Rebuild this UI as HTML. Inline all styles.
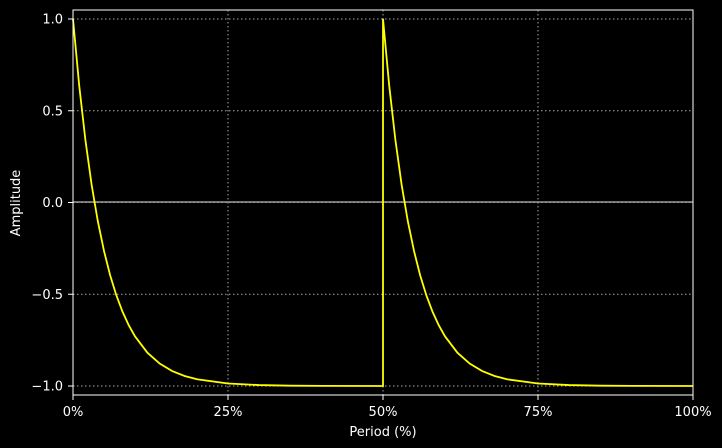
<!DOCTYPE html>
<html><head><meta charset="utf-8"><style>
html,body{margin:0;padding:0;background:#000;}
svg{display:block;font-family:"DejaVu Sans","Liberation Sans",sans-serif;}
</style></head><body>
<svg id="chart" width="722" height="448">
<rect width="722" height="448" fill="#000"/>
<g id="grid"></g>
<line x1="73" x2="693" y1="202" y2="202" stroke="#999" stroke-width="1.5"/>
<path id="series" fill="none" stroke="#ffff00" stroke-width="1.8"/>
<rect x="73" y="10" width="620" height="385" fill="none" stroke="#fff" stroke-width="1"/>
<g id="ticks"></g>
<text x="383" y="436" fill="#fff" font-size="13" text-anchor="middle">Period (%)</text>
<text x="20" y="203" fill="#fff" font-size="13" text-anchor="middle" transform="rotate(-90 20 203)">Amplitude</text>
</svg>
<script>
const xTicks = [0, 25, 50, 75, 100];
const xTickLabels = ["0%", "25%", "50%", "75%", "100%"];
const yTicks = [1, 0.5, 0, -0.5, -1];
const yTickLabels = ["1.0", "0.5", "0.0", "\u22120.5", "\u22121.0"];
const periodX = [0,1,2,3,4,5,6,7,8,9,10,12,14,16,18,20,25,30,35,40,50,
                 50,51,52,53,54,55,56,57,58,59,60,62,64,66,68,70,75,80,85,90,100];
const amplitude = [1.0,0.6375,0.3406,0.0976,-0.1013,-0.2642,-0.3976,-0.5068,-0.5962,-0.6694,-0.7293,-0.8186,-0.8784,-0.9185,-0.9454,-0.9634,-0.9865,-0.995,-0.9982,-0.9993,-0.9999,
                   1.0,0.6375,0.3406,0.0976,-0.1013,-0.2642,-0.3976,-0.5068,-0.5962,-0.6694,-0.7293,-0.8186,-0.8784,-0.9185,-0.9454,-0.9634,-0.9865,-0.995,-0.9982,-0.9993,-0.9999];

const NS = "http://www.w3.org/2000/svg";
const xS = v => 73 + (v / 100) * 620;
const yS = v => 202.5 - v * 183.5;
const grid = document.getElementById('grid');
const ticks = document.getElementById('ticks');

xTicks.forEach((t, i) => {
  const g = document.createElementNS(NS, 'line');
  g.setAttribute('x1', xS(t)); g.setAttribute('x2', xS(t));
  g.setAttribute('y1', 10); g.setAttribute('y2', 395);
  g.setAttribute('stroke', '#aaa'); g.setAttribute('stroke-dasharray', '1.5,2.5');
  
  
  grid.appendChild(g);
  const tk = document.createElementNS(NS, 'line');
  tk.setAttribute('x1', xS(t)); tk.setAttribute('x2', xS(t));
  tk.setAttribute('y1', 395); tk.setAttribute('y2', 400);
  tk.setAttribute('stroke', '#fff');
  
  
  ticks.appendChild(tk);
  const tx = document.createElementNS(NS, 'text');
  tx.setAttribute('x', xS(t)); tx.setAttribute('y', 416);
  tx.setAttribute('fill', '#fff'); tx.setAttribute('font-size', '13');
  tx.setAttribute('text-anchor', 'middle');
  tx.textContent = xTickLabels[i];
  
  
  ticks.appendChild(tx);
});
yTicks.forEach((t, i) => {
  const g = document.createElementNS(NS, 'line');
  g.setAttribute('x1', 73); g.setAttribute('x2', 693);
  g.setAttribute('y1', yS(t)); g.setAttribute('y2', yS(t));
  g.setAttribute('stroke', '#aaa'); g.setAttribute('stroke-dasharray', '1.5,2.5');
  
  
  grid.appendChild(g);
  const tk = document.createElementNS(NS, 'line');
  tk.setAttribute('x1', 68); tk.setAttribute('x2', 73);
  tk.setAttribute('y1', yS(t)); tk.setAttribute('y2', yS(t));
  tk.setAttribute('stroke', '#fff');
  
  
  ticks.appendChild(tk);
  const tx = document.createElementNS(NS, 'text');
  tx.setAttribute('x', 63); tx.setAttribute('y', yS(t) + 4.5);
  tx.setAttribute('fill', '#fff'); tx.setAttribute('font-size', '13');
  tx.setAttribute('text-anchor', 'end');
  tx.textContent = yTickLabels[i];
  
  
  ticks.appendChild(tx);
});
let d = '';
periodX.forEach((x, i) => {
  d += (i ? 'L' : 'M') + xS(x).toFixed(2) + ',' + yS(amplitude[i]).toFixed(2);
});
document.getElementById('series').setAttribute('d', d);
</script>
</body></html>
